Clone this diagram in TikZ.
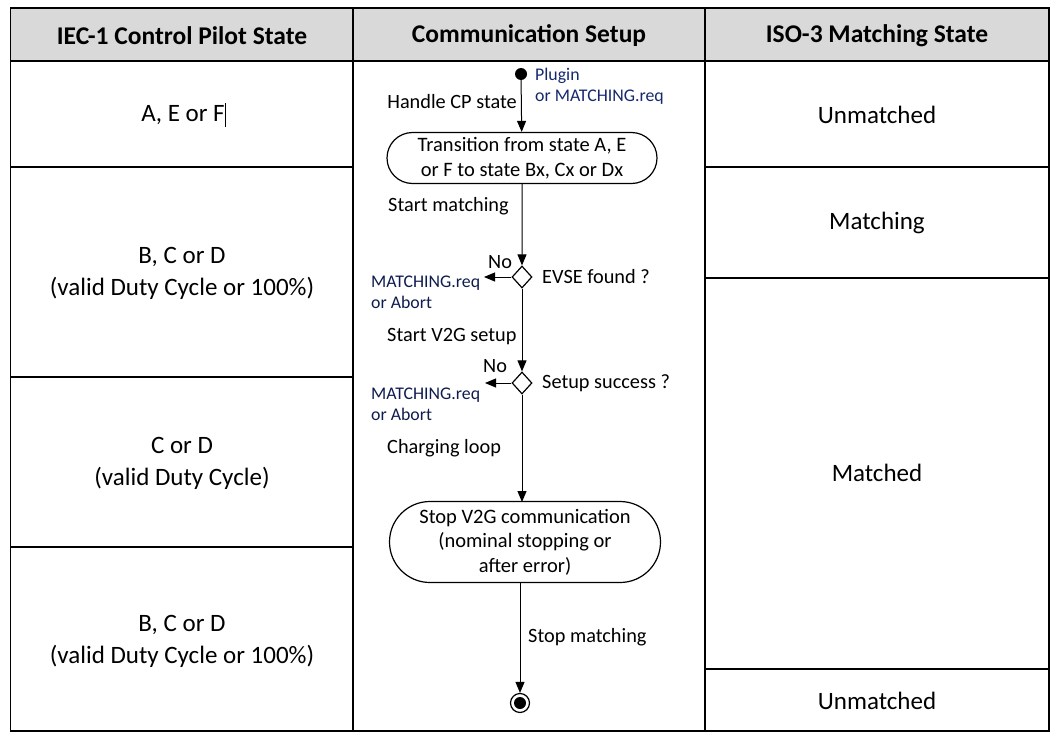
\documentclass[tikz,border=0pt]{standalone}
\usepackage{fontspec}
\setmainfont{Carlito}
\usetikzlibrary{arrows.meta,shapes.geometric,shapes.misc}
\definecolor{hdr}{RGB}{217,217,217}
\definecolor{navy}{RGB}{20,40,110}
\tikzset{
  grid/.style={line width=1.3pt},
  cell/.style={align=center,font=\fontsize{25}{32}\selectfont},
  head/.style={font=\fontsize{25.5}{28}\selectfont\bfseries},
  lbl/.style={font=\fontsize{20.3}{24}\selectfont,inner sep=0pt},
  small/.style={font=\fontsize{17.8}{21}\selectfont,text=navy,inner sep=0pt,align=left},
  stadium/.style={draw,line width=1.2pt,rounded rectangle,rounded rectangle arc length=180,align=center,font=\fontsize{20.5}{24.5}\selectfont,inner sep=0pt},
  dec/.style={draw,diamond,line width=1.2pt,minimum width=20pt,minimum height=22pt,inner sep=0pt},
  flow/.style={line width=1pt,-{Triangle[length=11pt,width=9pt]}}
}
\begin{document}
\begin{tikzpicture}[x=1pt,y=-1pt]
\useasboundingbox (0,0) rectangle (1061,736);
% table
\fill[hdr] (10.5,8) rectangle (1049,61);
\draw[grid] (10.5,8) rectangle (1049,731);
\draw[grid] (10.5,61) -- (1049,61);
\draw[grid] (353,8) -- (353,731);
\draw[grid] (705,8) -- (705,731);
\draw[grid] (10.5,167) -- (353,167);
\draw[grid] (10.5,377) -- (353,377);
\draw[grid] (10.5,547) -- (353,547);
\draw[grid] (705,167) -- (1049,167);
\draw[grid] (705,278) -- (1049,278);
\draw[grid] (705,669) -- (1049,669);
% headers
\node[head] (h1) at (182,36) {IEC-1 Control Pilot State};
\node[head] (h2) at (529,36) {Communication Setup};
\node[head] (h3) at (877,36) {ISO-3 Matching State};
% left column
\node[cell] (l1) at (183,115) {A, E or F};
\draw[line width=0.6pt] (l1.east) ++(-3pt,-12pt) -- ++(0,24pt);
\node[cell] (l2) at (182,273) {B, C or D\\(valid Duty Cycle or 100\%)};
\node[cell] (l3) at (182,463) {C or D\\(valid Duty Cycle)};
\node[cell] (l4) at (182,641) {B, C or D\\(valid Duty Cycle or 100\%)};
% right column
\node[cell] (r1) at (877,115) {Unmatched};
\node[cell] (r2) at (877,223) {Matching};
\node[cell] (r3) at (877,473) {Matched};
\node[cell] (r4) at (877,701) {Unmatched};
% flow
\node[circle,fill,inner sep=0pt,minimum size=12pt] (start) at (521,74) {};
\node[small,anchor=west] (plug) at (535,86) {Plugin\\or MATCHING.req};
\node[stadium,minimum width=270pt,minimum height=51pt] (trans) at (522,158) {Transition from state A, E\\or F to state Bx, Cx or Dx};
\draw[flow] (start) -- (trans);
\node[lbl,anchor=east] (hcp) at (517,102) {Handle CP state};
\node[dec] (d1) at (522,277) {};
\draw[flow] (trans) -- (d1);
\node[lbl,anchor=west] (sm) at (388,206) {Start matching};
\node[lbl,anchor=west] (q1) at (542,277) {EVSE found ?};
\node[lbl,anchor=west] (no1) at (488,262) {No};
\coordinate (a1) at (484,277);
\draw[flow] (d1.west) -- (a1);
\node[small,anchor=west,text=navy!70!black] (m1) at (371,292) {MATCHING.req\\or Abort};
\node[dec] (d2) at (522,383) {};
\draw[flow] (d1) -- (d2);
\node[lbl,anchor=west] (v2g) at (387,337) {Start V2G setup};
\node[lbl,anchor=west] (q2) at (542,383) {Setup success ?};
\node[lbl,anchor=west] (no2) at (483,366) {No};
\coordinate (a2) at (485,383);
\draw[flow] (d2.west) -- (a2);
\node[small,anchor=west,text=navy!70!black] (m2) at (371,404) {MATCHING.req\\or Abort};
\node[stadium,minimum width=271pt,minimum height=81pt] (stop) at (525,542) {Stop V2G communication\\(nominal stopping or\\after error)};
\coordinate (s2top) at (520,502);
\draw[flow] (d2.south) -- (d2.south |- s2top);
\node[lbl,anchor=west] (cl) at (387,448) {Charging loop};
\node[circle,draw,line width=1.2pt,minimum size=19pt,inner sep=0pt] (end) at (520,703) {};
\node[circle,fill,minimum size=12pt,inner sep=0pt] (endin) at (end) {};
\draw[flow] (stop.south -| end) -- (end);
\node[lbl,anchor=west] (smt) at (528,637) {Stop matching};
\end{tikzpicture}
\end{document}
